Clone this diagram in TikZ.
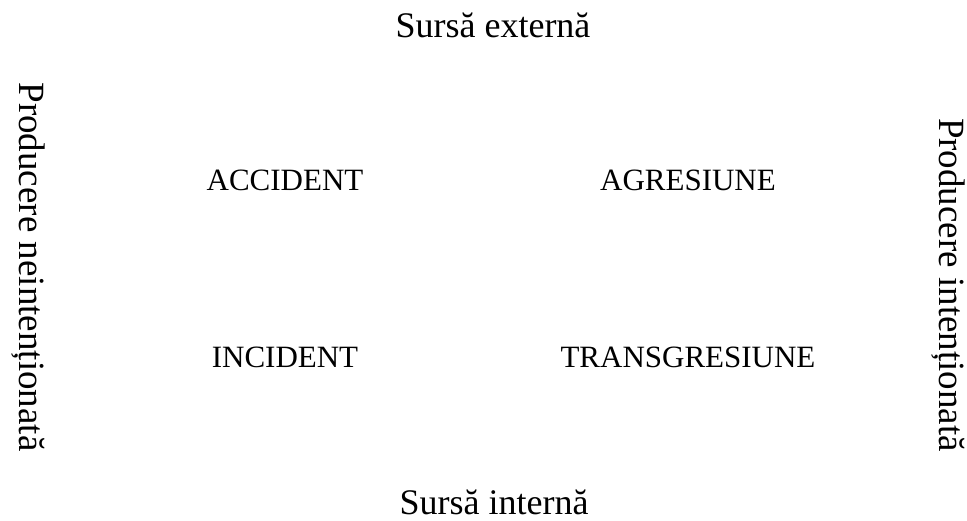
\documentclass[tikz,border=0pt]{standalone}
\usepackage{fontspec}
\setmainfont{Liberation Serif}
\newcommand{\lesursa}{\fontsize{36}{43}\selectfont}
\newcommand{\lecadran}{\fontsize{31}{37}\selectfont}
\newcommand{\lelatura}{\fontsize{37}{44}\selectfont}
\begin{document}
\begin{tikzpicture}[x=1pt,y=-1pt]
\useasboundingbox (0,0) rectangle (967,521);
% surse
\node (ext) at (493,25) {\lesursa Sursă externă};
\node (int) at (494,502) {\lesursa Sursă internă};
% producere
\node[rotate=-90] (neint) at (28,267) {\lelatura Producere neintenționată};
\node[rotate=-90] (intent) at (948,285) {\lelatura Producere intenționată};
% cadrane
\node (acc) at (285,180) {\lecadran ACCIDENT};
\node (agr) at (688,180) {\lecadran AGRESIUNE};
\node (inc) at (285,357) {\lecadran INCIDENT};
\node (tra) at (688,357) {\lecadran TRANSGRESIUNE};
\end{tikzpicture}
\end{document}
